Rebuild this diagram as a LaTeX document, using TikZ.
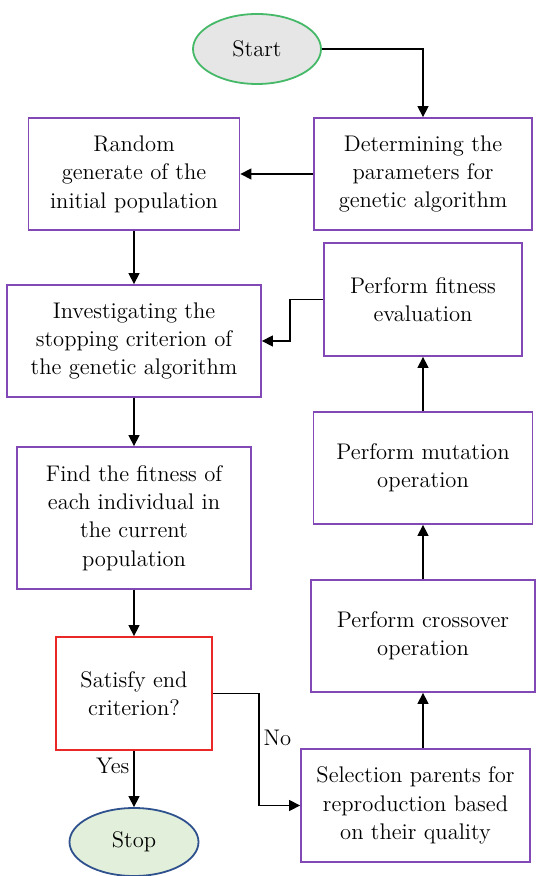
\documentclass[tikz,border=0pt]{standalone}
\usepackage{xcolor}
\usepackage{tikz}
\usetikzlibrary{arrows.meta}
\usetikzlibrary{shapes,calc,positioning}
\definecolor{boxpurple}{RGB}{130,72,182}
\definecolor{boxred}{RGB}{235,40,40}
\definecolor{startgray}{RGB}{230,230,230}
\definecolor{startgreen}{RGB}{70,185,105}
\definecolor{stopgreen}{RGB}{226,239,218}
\definecolor{stopblue}{RGB}{47,82,143}

\begin{document}
\begin{tikzpicture}[
	x=0.5pt, y=-0.5pt,
	every node/.style = {align=center, inner sep=2pt,
	font=\fontsize{11.3}{14.2}\selectfont},
	box/.style = {shape=rectangle, draw=boxpurple, line width=0.9pt},
	decision/.style = {shape=rectangle, draw=boxred, line width=0.9pt},
	terminal/.style = {shape=ellipse, line width=0.9pt},
	flow/.style = {-{Triangle[length=5.5pt,width=5.5pt]}, line width=0.7pt}
]
\useasboundingbox (0,0) rectangle (545,876);
\node[terminal, fill=startgray, draw=startgreen,
	minimum width=64pt, minimum height=35pt] (start) at (257,49) {Start};
\node[box, minimum width=109pt, minimum height=56pt] (param) at (423,174)
	{Determining the\\parameters for\\genetic algorithm};
\node[box, minimum width=105.5pt, minimum height=56pt] (init) at (134,174)
	{Random\\generate of the\\initial population};
\node[box, minimum width=127pt, minimum height=56pt] (check) at (134,341)
	{Investigating the\\stopping criterion of\\the genetic algorithm};
\node[box, minimum width=99pt, minimum height=56.5pt] (evalfit) at (423,299.5)
	{Perform fitness\\evaluation};
\node[box, minimum width=117pt, minimum height=71pt] (findfit) at (134,518)
	{Find the fitness of\\each individual in\\the current\\population};
\node[box, minimum width=109.5pt, minimum height=56pt] (mutate) at (423,468)
	{Perform mutation\\operation};
\node[box, minimum width=112pt, minimum height=56pt] (cross) at (423,636)
	{Perform crossover\\operation};
\node[decision, minimum width=78pt, minimum height=56.5pt] (satisfy) at (134,693.5)
	{Satisfy end\\criterion?};
\node[box, minimum width=114.5pt, minimum height=56.5pt] (select) at (415.5,805.5)
	{Selection parents for\\reproduction based\\on their quality};
\node[terminal, fill=stopgreen, draw=stopblue,
	minimum width=64.5pt, minimum height=34pt] (stop) at (134,842) {Stop};

\draw[flow] (start.east) -| (param.north);
\draw[flow] (param.west) -- (init.east);
\draw[flow] (init.south) -- (check.north);
\draw[flow] (check.south) -- (findfit.north);
\draw[flow] (findfit.south) -- (satisfy.north);
\draw[flow] (satisfy.south) -- node[pos=0.27, left] (yes) {Yes} (stop.north);
\draw[flow] (satisfy.east) -- ++(46,0) |- node[pos=0.2, right] (no) {No} (select.west);
\draw[flow] (select.north -| cross.south) -- (cross.south);
\draw[flow] (cross.north) -- (mutate.south);
\draw[flow] (mutate.north) -- (evalfit.south);
\draw[flow] (evalfit.west) -- ++(-33,0) |- (check.east);
\end{tikzpicture}
\end{document}
